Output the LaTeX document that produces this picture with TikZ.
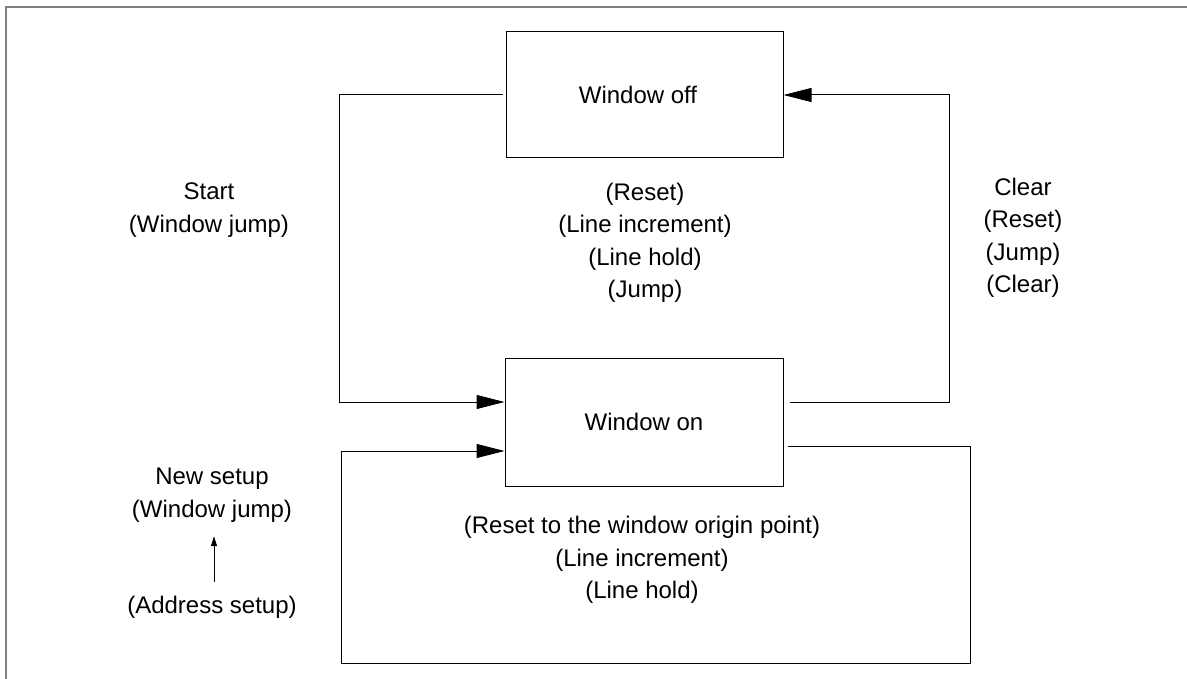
\documentclass[tikz,border=0pt]{standalone}
\usepackage{fontspec}
\setmainfont{Liberation Sans}
\usetikzlibrary{arrows.meta}
\begin{document}
\begin{tikzpicture}[x=1pt,y=-1pt,
  every node/.style={font=\fontsize{24}{32.5}\selectfont},
  statebox/.style={draw=black,line width=1pt,minimum width=277pt,minimum height=126pt,inner sep=0pt},
  lbl/.style={align=center,inner sep=0pt},
  conn/.style={draw=black,line width=1pt},
  bigarrow/.style={conn,-{Triangle[length=28pt,width=14pt]}},
  smallarrow/.style={conn,-{Triangle[length=10pt,width=6pt]}},
  frameline/.style={draw=black!50,line width=1.5pt}]
\useasboundingbox (0,0) rectangle (1187,679);
% partial frame
\coordinate (ftl) at (6,7);
\coordinate (ftr) at (1187,7);
\coordinate (fbl) at (6,679);
\draw[frameline] (ftr) -- (ftl) -- (fbl);
% states
\node[statebox] (off) at (644.5,95) {\hspace*{-13pt}Window off};
\node[statebox,minimum width=278pt,minimum height=128pt] (on) at (644,422) {Window on};
% labels
\node[lbl] (startlbl) at (209,210) {Start\\(Window jump)};
\node[lbl] (midlbl) at (645,243) {(Reset)\\(Line increment)\\(Line hold)\\(Jump)};
\node[lbl] (clearlbl) at (1023,238) {Clear\\(Reset)\\(Jump)\\(Clear)};
\node[lbl] (botlbl) at (642,560) {(Reset to the window origin point)\\(Line increment)\\(Line hold)};
\node[lbl] (newlbl) at (212,495) {New setup\\(Window jump)};
\node[lbl] (addrlbl) at (212,607) {(Address setup)};
% connectors
\coordinate (s1) at (339,95);
\coordinate (s2) at (339,402);
\draw[bigarrow] ([xshift=-3pt]off.west) -- (s1) -- (s2) -- ([yshift=20pt]on.west);
\coordinate (c1) at (949,402);
\coordinate (c2) at (949,95);
\draw[bigarrow] ([xshift=6pt,yshift=20pt]on.east) -- (c1) -- (c2) -- (off.east);
\coordinate (l1) at (970,446);
\coordinate (l2) at (970,663);
\coordinate (l3) at (341,663);
\coordinate (l4) at (341,451);
\draw[bigarrow] ([xshift=4pt,yshift=-24pt]on.east) -- (l1) -- (l2) -- (l3) -- (l4) -- ([yshift=-29pt]on.west);
\draw[smallarrow,shorten <=14pt,shorten >=14pt] ([xshift=2pt]addrlbl.north) -- ([xshift=2pt]newlbl.south);
\end{tikzpicture}
\end{document}
